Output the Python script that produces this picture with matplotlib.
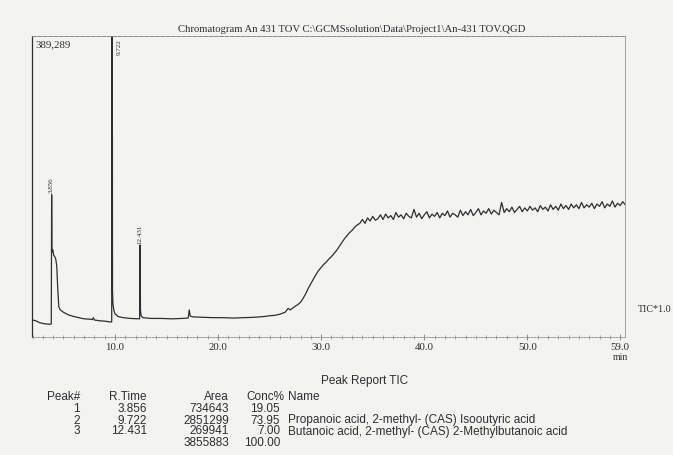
import matplotlib
matplotlib.use("Agg")
import matplotlib.pyplot as plt
from matplotlib.ticker import FixedLocator, MultipleLocator

# ------------------------------ data ------------------------------
# TIC trace, time in min, signal in thousands of counts
TIME_EARLY = [2.0, 2.3, 2.7, 3.2, 3.7, 3.82, 3.856, 3.88, 3.92, 3.96, 4.05, 4.15, 4.25,
              4.35, 4.45, 4.55, 4.7, 5.0, 5.5, 6.0, 6.5, 7.0, 7.6, 7.8, 7.9, 8.0, 8.5,
              9.0, 9.5, 9.68, 9.722, 9.76, 9.8, 9.9, 10.0, 10.3, 10.8, 11.5, 12.2,
              12.39, 12.431, 12.47, 12.52, 12.7, 13.5, 14.5, 15.5, 16.5, 17.1, 17.2,
              17.3, 17.6, 18.5, 19.5, 20.5, 21.5, 22.5, 23.5, 24.5, 25.0, 25.5, 26.0,
              26.5, 26.8, 27.0, 27.5, 27.75]
SIGNAL_EARLY = [22, 21, 18.5, 17, 16.5, 17, 184, 114, 110, 113, 106, 104, 101,
                92, 62, 39, 35, 32, 28.5, 26.5, 25, 23.5, 23, 22.5, 25, 22, 21,
                20.5, 19.5, 19.5, 650, 60, 43, 34, 30, 26.5, 25, 24, 23.5,
                23.5, 119, 36, 28, 25, 24, 24, 23.5, 24, 24.5, 35,
                27, 26, 25.5, 25, 25, 24.5, 25, 25.5, 26.5, 27.5, 28, 29.5,
                32, 37, 35, 40, 42]

# noisy ramp and plateau, one value every 0.25 min from 28.0 to 59.5
TIME_LATE = [28.0, 28.25, 28.5, 28.75, 29.0, 29.25, 29.5, 29.75, 30.0, 30.25, 30.5, 30.75,
             31.0, 31.25, 31.5, 31.75, 32.0, 32.25, 32.5, 32.75, 33.0, 33.25, 33.5, 33.75,
             34.0, 34.25, 34.5, 34.75, 35.0, 35.25, 35.5, 35.75, 36.0, 36.25, 36.5, 36.75,
             37.0, 37.25, 37.5, 37.75, 38.0, 38.25, 38.5, 38.75, 39.0, 39.25, 39.5, 39.75,
             40.0, 40.25, 40.5, 40.75, 41.0, 41.25, 41.5, 41.75, 42.0, 42.25, 42.5, 42.75,
             43.0, 43.25, 43.5, 43.75, 44.0, 44.25, 44.5, 44.75, 45.0, 45.25, 45.5, 45.75,
             46.0, 46.25, 46.5, 46.75, 47.0, 47.25, 47.5, 47.75, 48.0, 48.25, 48.5, 48.75,
             49.0, 49.25, 49.5, 49.75, 50.0, 50.25, 50.5, 50.75, 51.0, 51.25, 51.5, 51.75,
             52.0, 52.25, 52.5, 52.75, 53.0, 53.25, 53.5, 53.75, 54.0, 54.25, 54.5, 54.75,
             55.0, 55.25, 55.5, 55.75, 56.0, 56.25, 56.5, 56.75, 57.0, 57.25, 57.5, 57.75,
             58.0, 58.25, 58.5, 58.75, 59.0, 59.25, 59.5]
SIGNAL_LATE = [45, 50, 56, 63, 69, 75, 81, 86, 90, 94, 97, 101,
               104, 108, 112, 117, 122, 127, 131, 135, 138, 142, 145, 147,
               152, 147, 154, 150, 156, 151, 153, 158, 152, 159, 154, 157,
               152, 161, 155, 158, 153, 160, 156, 154, 165, 155, 160, 153,
               158, 162, 154, 159, 156, 161, 154, 160, 157, 163, 155, 160,
               158, 155, 164, 157, 162, 158, 165, 157, 161, 166, 158, 163,
               160, 166, 159, 164, 161, 158, 174, 161, 166, 162, 168, 161,
               165, 169, 162, 167, 163, 169, 164, 167, 162, 170, 165, 168,
               163, 171, 165, 169, 164, 172, 166, 170, 165, 172, 167, 171,
               166, 174, 167, 171, 168, 173, 166, 172, 169, 175, 167, 172,
               169, 176, 168, 173, 170, 175, 171]

FULL_SCALE = 389.289          # shown as "389,289"
PEAK_RT = [3.856, 9.722, 12.431]
PEAK_LABEL = ["3.856", "9.722", "12.431"]
PEAK_TOP = [184, 389.289, 119]

MAJOR_TICKS = [10, 20, 30, 40, 50, 59]
MAJOR_LABELS = ["10.0", "20.0", "30.0", "40.0", "50.0", "59.0"]

TITLE = r"Chromatogram An 431 TOV C:\GCMSsolution\Data\Project1\An-431 TOV.QGD"

TABLE_HEADER = ["Peak#", "R.Time", "Area", "Conc%", "Name"]
TABLE_PEAK = ["1", "2", "3", ""]
TABLE_RT = ["3.856", "9.722", "12.431", ""]
TABLE_AREA = ["734643", "2851299", "269941", "3855883"]
TABLE_CONC = ["19.05", "73.95", "7.00", "100.00"]
TABLE_NAME = ["", "Propanoic acid, 2-methyl- (CAS) Isooutyric acid",
              "Butanoic acid, 2-methyl- (CAS) 2-Methylbutanoic acid", ""]
# ---------------------------------------------------------------------------------------

W, H = 673, 455
PAPER = "#f3f3f2"
INK = "#2e2e2e"
SERIF = ["Liberation Serif", "DejaVu Serif"]
SANS = ["Liberation Sans", "DejaVu Sans"]


def fx(px):
    return px / W


def fy(py):
    return 1 - py / H


fig = plt.figure(figsize=(W / 100, H / 100), dpi=100, facecolor=PAPER)
ax = fig.add_axes([fx(32), fy(337), (625 - 32) / W, (337 - 36) / H])
ax.set_facecolor(PAPER)

ax.plot(TIME_EARLY + TIME_LATE, SIGNAL_EARLY + SIGNAL_LATE, color=INK, lw=0.9)
ax.set_xlim(1.95, 59.47)
ax.set_ylim(0, FULL_SCALE)

# frame like the printout
ax.spines["left"].set_color(INK)
ax.spines["left"].set_linewidth(0.9)
ax.spines["top"].set_color("#8a8a8a")
ax.spines["top"].set_linewidth(0.7)
ax.spines["top"].set_linestyle((0, (4, 1.5)))
ax.spines["right"].set_color("#a0a0a0")
ax.spines["right"].set_linewidth(0.7)
ax.spines["bottom"].set_color("#8a8a8a")
ax.spines["bottom"].set_linewidth(0.6)
ax.spines["bottom"].set_linestyle((0, (2, 1.5)))

ax.set_yticks([])
ax.xaxis.set_major_locator(FixedLocator(MAJOR_TICKS))
ax.set_xticklabels(MAJOR_LABELS, fontfamily=SERIF, fontsize=7.8, color=INK)
ax.xaxis.set_minor_locator(MultipleLocator(1))
ax.tick_params(axis="x", which="major", direction="inout", length=4, width=0.6,
               color="#777777", pad=2)
ax.tick_params(axis="x", which="minor", direction="inout", length=2.5, width=0.5,
               color="#888888")

ax.text(0.005, 0.985, "389,289", transform=ax.transAxes, ha="left", va="top",
        fontfamily=SERIF, fontsize=7.8, color=INK)

for rt, lab, top in zip(PEAK_RT, PEAK_LABEL, PEAK_TOP):
    if top >= FULL_SCALE:
        ax.annotate(lab, xy=(rt, top), xytext=(5, -2), textcoords="offset points",
                    rotation=90, ha="center", va="top", fontfamily=SERIF,
                    fontsize=5, color=INK)
    else:
        ax.annotate(lab, xy=(rt, top), xytext=(0, 1), textcoords="offset points",
                    rotation=90, ha="center", va="bottom", fontfamily=SERIF,
                    fontsize=5, color=INK)

fig.text(fx(352), fy(29), TITLE, ha="center", va="center", fontfamily=SERIF,
         fontsize=7.7, color=INK)
fig.text(fx(638), fy(310), "TIC*1.0", ha="left", va="center", fontfamily=SERIF,
         fontsize=7.2, color=INK)
fig.text(fx(620), fy(357), "min", ha="center", va="center", fontfamily=SERIF,
         fontsize=7, color=INK)

# peak report table
fig.text(fx(365), fy(381), "Peak Report TIC", ha="center", va="center",
         fontfamily=SANS, fontsize=8.5, color=INK)
row_y = [397, 409.5, 420.5, 431.5, 442.5]
col_x = [80, 147, 229, 284, 288]
col_ha = ["right", "right", "right", "right", "left"]
for txt, x, ha in zip(TABLE_HEADER, col_x, col_ha):
    fig.text(fx(x), fy(row_y[0]), txt, ha=ha, va="center", fontfamily=SANS,
             fontsize=8.5, color=INK)
for i in range(len(TABLE_AREA)):
    y = fy(row_y[i + 1])
    cells = [TABLE_PEAK[i], TABLE_RT[i], TABLE_AREA[i], TABLE_CONC[i], TABLE_NAME[i]]
    xs = [80, 147, 229, 280, 288]
    for txt, x, ha in zip(cells, xs, col_ha):
        if txt:
            fig.text(fx(x), y, txt, ha=ha, va="center", fontfamily=SANS,
                     fontsize=8.5, color=INK)

fig.savefig("out.png", dpi=100, facecolor=PAPER)
